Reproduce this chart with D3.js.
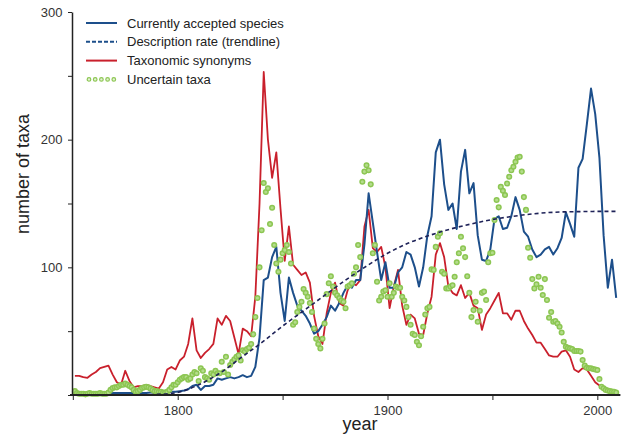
<!DOCTYPE html>
<html>
<head>
<meta charset="utf-8">
<script src="https://cdn.jsdelivr.net/npm/d3@7"></script>
<style>
  body { margin: 0; background: #fff; }
  svg { display: block; font-family: "Liberation Sans", Arial, sans-serif; }
  .axis path, .axis line { stroke: #222; }
  .axis text { fill: #333; font-size: 13px; }
</style>
</head>
<body>
<svg id="chart" width="622" height="437"></svg>
<script>
// yearly counts
const lineYears = d3.range(1751, 2010, 2);
const dotYears = d3.range(1751, 2010, 1);

const accepted = [
  3, 2, 1.5, 1, 1, 1, 1, 1, 1, 1.5,
  1.5, 1.5, 1.5, 1.5, 1.5, 1.5, 1.5, 1.5, 2, 2,
  2, 2, 2, 2.5, 2.5, 3, 3.5, 4.5, 7, 8,
  4, 7, 7, 8, 13, 12, 13, 14, 13, 14,
  15.5, 14, 15, 22, 45, 90, 92, 108, 116, 80,
  58, 92, 80, 70, 66, 62, 56, 48, 50, 55,
  61, 70, 66, 72, 80, 86, 84, 90, 90, 118,
  158, 135, 112, 90, 104, 84, 84, 96, 100, 112,
  110, 100, 85, 100, 125, 140, 190, 200, 165, 145,
  150, 130, 175, 192, 158, 166, 125, 106, 105, 114,
  138, 140, 130, 131, 140, 155, 145, 128, 124, 114,
  108, 110, 114, 116, 110, 115, 123, 143, 134, 124,
  178, 185, 212, 240, 220, 186, 125, 84, 106, 76
];

const synonyms = [
  15, 15, 14, 13.5, 16, 18, 21, 22, 23, 16,
  10, 8, 19, 11, 6, 7, 7, 8, 7, 6,
  5, 10, 20, 22, 20, 27, 30, 40, 60, 35,
  29, 33, 36, 40, 60, 55, 62, 58, 45, 32,
  52, 50, 46, 77, 150, 253, 200, 170, 190, 146,
  105, 132, 102, 98, 94, 96, 88, 62, 46, 40,
  64, 80, 88, 72, 70, 82, 88, 86, 90, 132,
  145, 115, 112, 116, 100, 68, 85, 98, 70, 55,
  63, 60, 48, 47, 64, 77, 110, 119, 108, 85,
  80, 78, 86, 76, 80, 70, 68, 51, 63, 68,
  74, 80, 64, 64, 59, 66, 66, 58, 52, 47,
  41, 41, 36, 31, 30, 30, 34, 35, 30, 20,
  18, 21, 20, 15, 10, 7.5, 5, 3.5, 2.5, 1.5
];

const uncertain = [
  3, 1.5, 1, 1, 1, 0.5, 1, 1.5, 1, 1,
  1, 1, 1.5, 1, 1, 1, 2, 4, 5.5, 6,
  6, 7, 8, 8, 9, 8, 7, 6, 4, 2.5,
  3, 4, 5.5, 6, 6.5, 6, 5, 4, 3, 3,
  2.5, 2.5, 2, 2, 2.5, 4, 6, 8, 8, 10,
  12, 13, 14, 14, 12, 13, 16, 18, 17, 11,
  21, 19, 14, 13, 12, 17, 16, 19, 17, 17,
  26, 18, 30, 16, 23.5, 26, 28, 30, 31, 27,
  35, 34, 36, 37, 40, 47.5, 61, 76, 100, 129,
  166, 159, 162, 134, 146.7, 117.5, 103, 96.5, 106, 111,
  113.5, 117.5, 112, 103, 55, 57, 65, 69, 73, 83,
  80, 77, 72, 65, 52, 44, 40, 36.5, 44, 56,
  79, 87.5, 93, 85, 80, 78, 76, 74, 73, 68,
  85, 86, 87.5, 95, 100, 117.5, 108, 167, 175, 180,
  176, 165, 111, 117.5, 88.7, 74, 77, 81, 82, 77,
  87.5, 77, 80, 85, 84, 84, 77, 74, 69, 61,
  55, 48, 47, 41.7, 39, 46, 53.5, 63, 68, 69,
  98.4, 98, 116, 124, 126.6, 96.5, 95, 83.5, 83.5, 85,
  86, 92.6, 104, 111, 124, 115, 108, 93, 80, 61,
  66.5, 73, 57.4, 66, 80, 81, 74.4, 104, 111, 111.4,
  137, 152.7, 147, 163, 160, 156.6, 165.7, 171, 176, 178.8,
  182.7, 186, 186.6, 175, 155, 145, 115.3, 107.5, 90.8, 83.5,
  86.7, 92.6, 84, 78.3, 90.8, 74.4, 60.5, 65, 57.4, 58,
  56, 53.5, 49, 41.7, 37.8, 37, 36.5, 36, 34.5, 34.5,
  34.5, 34, 27.4, 23, 21.4, 21, 21, 20.4, 20, 19.6,
  12.5, 6.5, 5.2, 4, 3.5, 3, 2.8, 2.6, 2
];

// description rate trendline, read every decade
const trendYears = [1780, 1790, 1800, 1810, 1820, 1830, 1840, 1850, 1860, 1870, 1880, 1890,
  1900, 1910, 1920, 1930, 1940, 1950, 1960, 1970, 1980, 1990, 2000, 2010];
const trend = [0, 0.5, 2, 8, 17, 29, 41, 54, 66, 78, 90, 101,
  111, 119, 125, 130, 134, 137.5, 140, 142, 143.2, 143.6, 143.8, 143.8];

const xTicks = [1750, 1800, 1850, 1900, 1950, 2000];
const xLabels = [1800, 1900, 2000];
const yTicks = [0, 50, 100, 150, 200, 250, 300];
const yLabels = [100, 200, 300];

const legendItems = [
  { label: "Currently accepted species", type: "line", color: "#1d4f8b", dash: null },
  { label: "Description rate (trendline)", type: "line", color: "#1d4f8b", dash: "4,2" },
  { label: "Taxonomic synonyms", type: "line", color: "#c9202c", dash: null },
  { label: "Uncertain taxa", type: "dots", color: "#8cc652", dash: null }
];

const svg = d3.select("#chart");

const x = d3.scaleLinear().domain([1750, 2011]).range([72.8, 620.4]);
const y = d3.scaleLinear().domain([0, 300]).range([395, 12]);

const xAxis = d3.axisBottom(x).tickValues(xTicks).tickSize(5).tickSizeOuter(0)
  .tickFormat(d => xLabels.includes(d) ? d : "");
const yAxis = d3.axisLeft(y).tickValues(yTicks).tickSize(4).tickSizeOuter(0)
  .tickFormat(d => yLabels.includes(d) ? d : "");

const seriesLine = d3.line().x((d, i) => x(lineYears[i])).y(d => y(d));
svg.append("path")
  .datum(synonyms)
  .attr("fill", "none")
  .attr("stroke", "#c9202c")
  .attr("stroke-width", 1.8)
  .attr("stroke-linejoin", "round")
  .attr("d", seriesLine);

svg.append("path")
  .datum(accepted)
  .attr("fill", "none")
  .attr("stroke", "#1d4f8b")
  .attr("stroke-width", 2)
  .attr("stroke-linejoin", "round")
  .attr("d", seriesLine);

svg.append("g")
  .selectAll("circle")
  .data(uncertain)
  .join("circle")
  .attr("cx", (d, i) => x(dotYears[i]))
  .attr("cy", d => y(d))
  .attr("r", 2.3)
  .attr("fill", "#b4dc8c")
  .attr("stroke", "#8cc652")
  .attr("stroke-width", 1.5);

const trendLine = d3.line()
  .x((d, i) => x(trendYears[i]))
  .y(d => y(d))
  .curve(d3.curveMonotoneX);
svg.append("path")
  .datum(trend)
  .attr("fill", "none")
  .attr("stroke", "#1e2258")
  .attr("stroke-width", 1.6)
  .attr("stroke-dasharray", "4,3")
  .attr("d", trendLine);

const gx = svg.append("g")
  .attr("class", "axis")
  .attr("transform", "translate(0,395)")
  .call(xAxis);
gx.select(".domain").attr("stroke-width", 2).attr("d", "M70,0H620.4");
gx.selectAll(".tick text").attr("dy", "0.9em");

const gy = svg.append("g")
  .attr("class", "axis")
  .attr("transform", "translate(72,0)")
  .call(yAxis);
gy.select(".domain").attr("stroke-width", 1.5);
gy.selectAll(".tick text").attr("dx", "-0.2em");

svg.append("text")
  .attr("x", 360)
  .attr("y", 430)
  .attr("text-anchor", "middle")
  .attr("fill", "#222")
  .style("font-size", "18px")
  .text("year");

svg.append("text")
  .attr("transform", "translate(29,174) rotate(-90)")
  .attr("text-anchor", "middle")
  .attr("fill", "#222")
  .style("font-size", "18px")
  .text("number of taxa");

const legend = svg.append("g").attr("transform", "translate(86,23)");
legendItems.forEach((item, i) => {
  const row = legend.append("g").attr("transform", `translate(0,${i * 18.8})`);
  if (item.type === "line") {
    row.append("line")
      .attr("x1", 0).attr("x2", 31).attr("y1", 0).attr("y2", 0)
      .attr("stroke", item.color)
      .attr("stroke-width", 2)
      .attr("stroke-dasharray", item.dash);
  } else {
    row.selectAll("circle")
      .data(d3.range(5))
      .join("circle")
      .attr("cx", d => 3 + d * 6.2)
      .attr("cy", 0)
      .attr("r", 1.8)
      .attr("fill", "#e4f2d4")
      .attr("stroke", item.color)
      .attr("stroke-width", 1.2);
  }
  row.append("text")
    .attr("x", 41)
    .attr("y", 0)
    .attr("dy", "0.35em")
    .attr("fill", "#222")
    .style("font-size", "13px")
    .text(item.label);
});
</script>
</body>
</html>
